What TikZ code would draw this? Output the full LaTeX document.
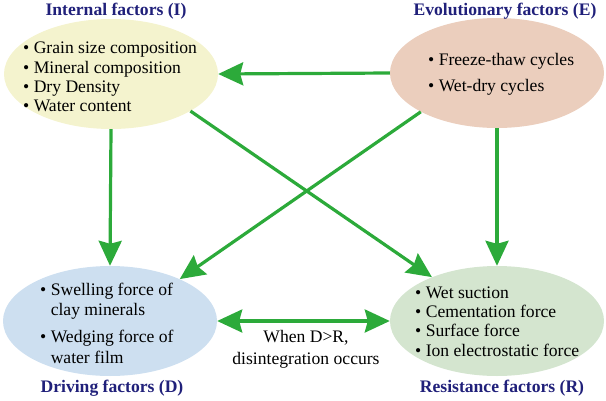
\documentclass[tikz,border=0pt]{standalone}
\usepackage{fontspec}
\setmainfont{Liberation Serif}
\usetikzlibrary{shapes.geometric,arrows.meta}
\definecolor{arrowgreen}{RGB}{44,170,58}
\definecolor{titleblue}{RGB}{32,32,122}
\definecolor{fillI}{RGB}{244,243,206}
\definecolor{fillE}{RGB}{235,206,189}
\definecolor{fillD}{RGB}{205,223,240}
\definecolor{fillR}{RGB}{212,229,207}
\begin{document}
\begin{tikzpicture}[x=1pt,y=-1pt,
  blob/.style={ellipse, minimum width=214pt, minimum height=110pt, inner sep=0pt},
  title/.style={font=\fontsize{17.6}{20}\selectfont\bfseries, text=titleblue, inner sep=0pt},
  body/.style={font=\fontsize{17.6}{19.3}\selectfont, align=left, anchor=west, inner sep=0pt},
  >={Stealth[length=25pt,width=23pt,inset=3pt]},
  link/.style={draw=arrowgreen, line width=3.2pt, ->}]
\useasboundingbox (0,0) rectangle (606,400);
% ellipses
\node[blob, fill=fillI] (I) at (111,74) {};
\node[blob, fill=fillE] (E) at (497,73) {};
\node[blob, fill=fillD] (D) at (110,321) {};
\node[blob, fill=fillR] (R) at (497,321) {};
% titles
\node[title] (tI) at (116,11) {Internal factors (I)};
\node[title] (tE) at (505,11) {Evolutionary factors (E)};
\node[title] (tD) at (112,388) {Driving factors (D)};
\node[title] (tR) at (502,388) {Resistance factors (R)};
% body texts
\node[body] (bI) at (23,77) {\textbullet\ Grain size composition\\\textbullet\ Mineral composition\\\textbullet\ Dry Density\\\textbullet\ Water content};
\node[body] (bE) at (428,74) {\textbullet\ Freeze-thaw cycles\\[6.5pt]\textbullet\ Wet-dry cycles};
\node[body, font=\fontsize{17.6}{20.5}\selectfont] (bD) at (40,323) {\textbullet\ Swelling force of\\\phantom{\textbullet\ }clay minerals\\[6.5pt]\textbullet\ Wedging force of\\\phantom{\textbullet\ }water film};
\node[body] (bR) at (415,321.5) {\textbullet\ Wet suction\\\textbullet\ Cementation force\\\textbullet\ Surface force\\\textbullet\ Ion electrostatic force};
\node[body, anchor=center, align=center, font=\fontsize{17.6}{22}\selectfont] (mid) at (306,349) {When D>R,\\disintegration occurs};
% arrows
\draw[link] (E.west) -- (I.east);
\draw[link] (I.south) -- (D.north);
\draw[link] (E.south) -- (R.north);
\draw[link] (I.-25) -- (R.146);
\draw[link] (E.207) -- (D.31);
\draw[link, <->] (D.east) -- (R.west);
\end{tikzpicture}
\end{document}
